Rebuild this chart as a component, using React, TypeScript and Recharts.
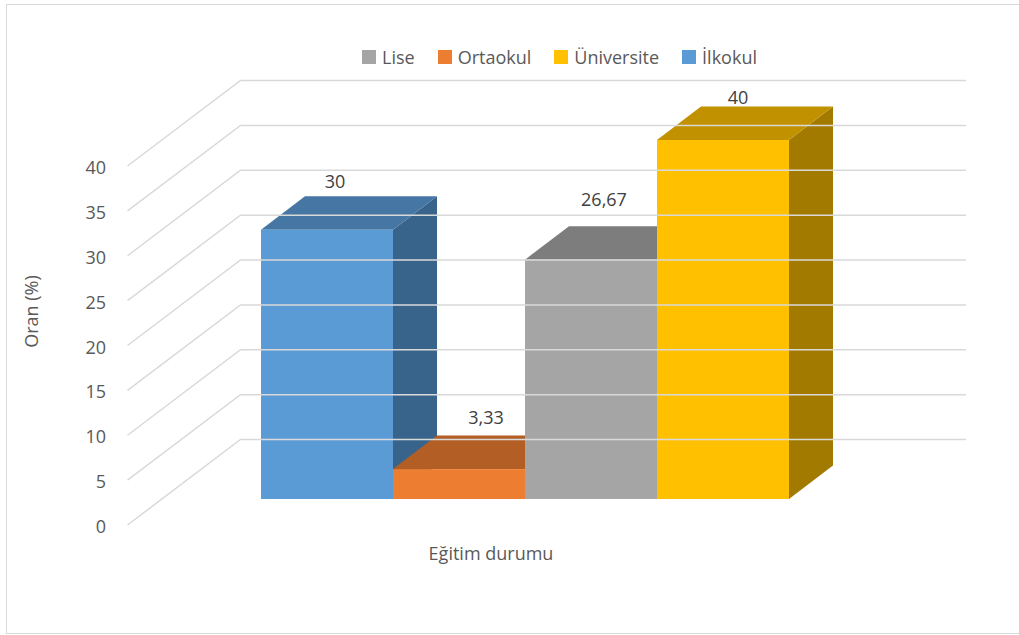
import React from "react";
import { BarChart, Bar, XAxis, YAxis, Legend, LabelList } from "recharts";

const categories = ["Eğitim durumu"];
const seriesNames = ["İlkokul", "Ortaokul", "Lise", "Üniversite"];
const seriesValues = [30, 3.33, 26.67, 40];
const yTicks = [0, 5, 10, 15, 20, 25, 30, 35, 40];
const frontColors = ["#5B9BD5", "#ED7D31", "#A5A5A5", "#FFC000"];
const topColors = ["#4676A3", "#B35E24", "#7D7D7D", "#C19100"];
const sideColors = ["#38648C", "#8F4B1C", "#646464", "#A37A00"];
const labelShift = [
  [8, -49],
  [27, -52],
  [13, -61],
  [15, -43],
];

const table = categories.map((c) => {
  const row: Record<string, any> = { category: c };
  seriesNames.forEach((n, i) => (row[n] = seriesValues[i]));
  return row;
});

const FONT = "'Open Sans', sans-serif";
const DEPTH_X = 44;
const DEPTH_Y = 33.5;
const WALL_LEFT = 240.5;
const WALL_RIGHT = 966;
const FLOOR_LEFT = 127.5;
const WALL_DY = -59.5;
const FLOOR_DY = 26;

function GridTick(props: any) {
  const { y, payload } = props;
  return (
    <g>
      <polyline
        points={`${FLOOR_LEFT},${y + FLOOR_DY} ${WALL_LEFT},${y + WALL_DY} ${WALL_RIGHT},${y + WALL_DY}`}
        fill="none"
        stroke="#D9D9D9"
        strokeWidth={1.5}
      />
      <text x={106} y={y + 27} textAnchor="end" dominantBaseline="central" fontFamily={FONT} fontSize={18} fill="#595959">
        {payload.value}
      </text>
    </g>
  );
}

function bar3D(i: number) {
  return (props: any) => {
    const { x, y, width, height } = props;
    const r = x + width;
    const b = y + height;
    return (
      <g>
        <polygon points={`${r},${y} ${r + DEPTH_X},${y - DEPTH_Y} ${r + DEPTH_X},${b - DEPTH_Y} ${r},${b}`} fill={sideColors[i]} />
        <polygon points={`${x},${y} ${r},${y} ${r + DEPTH_X},${y - DEPTH_Y} ${x + DEPTH_X},${y - DEPTH_Y}`} fill={topColors[i]} />
        <rect x={x} y={y} width={width} height={height} fill={frontColors[i]} />
      </g>
    );
  };
}

function barLabel(i: number) {
  return (props: any) => {
    const { x, y, width, value } = props;
    return (
      <text
        x={x + width / 2 + labelShift[i][0]}
        y={y + labelShift[i][1]}
        textAnchor="middle"
        dominantBaseline="central"
        fontFamily={FONT}
        fontSize={18}
        fill="#404040"
      >
        {String(value).replace(".", ",")}
      </text>
    );
  };
}

function LegendRow(props: any) {
  const items = props.payload || [];
  return (
    <div style={{ display: "flex", fontFamily: FONT, fontSize: 18, color: "#595959", whiteSpace: "nowrap", lineHeight: "24px" }}>
      {items.map((it: any) => (
        <div key={it.value} style={{ display: "flex", alignItems: "center", marginRight: 23 }}>
          <span style={{ display: "inline-block", width: 14, height: 14, background: it.color, marginRight: 6 }} />
          <span>{it.value}</span>
        </div>
      ))}
    </div>
  );
}

export default function App() {
  return (
    <div style={{ position: "absolute", left: 0, top: 0, width: 1019, height: 635, overflow: "hidden", background: "#fff" }}>
      <div
        style={{
          position: "absolute",
          left: 6,
          top: 4,
          width: 1040,
          height: 628,
          border: "1.5px solid #D9D9D9",
        }}
      />
      <BarChart
        width={1019}
        height={635}
        data={table}
        margin={{ top: 140, right: 230, bottom: 0, left: 0 }}
        barCategoryGap={0}
        barGap={0}
        style={{ position: "absolute", left: 0, top: 0 }}
      >
        <XAxis
          dataKey="category"
          height={136}
          axisLine={false}
          tickLine={false}
          tick={false}
          label={{
            value: categories[0],
            position: "insideTop",
            offset: 48,
            dx: -34,
            style: { fontFamily: FONT, fontSize: 18, fill: "#595959" },
          }}
        />
        <YAxis
          width={261}
          domain={[0, 40]}
          ticks={yTicks}
          axisLine={false}
          tickLine={false}
          tick={GridTick}
          label={{
            value: "Oran (%)",
            angle: -90,
            position: "insideLeft",
            offset: 32,
            dy: -8,
            style: { fontFamily: FONT, fontSize: 18, fill: "#595959", textAnchor: "middle" },
          }}
        />
        <Legend
          verticalAlign="middle"
          content={<LegendRow />}
          wrapperStyle={{ left: 362, top: 45, width: "auto", height: 24 }}
        />
        {seriesNames.map((n, i) => (
          <Bar key={n} dataKey={n} name={n} fill={frontColors[i]} isAnimationActive={false} shape={bar3D(i)}>
            <LabelList dataKey={n} content={barLabel(i)} />
          </Bar>
        ))}
      </BarChart>
    </div>
  );
}
